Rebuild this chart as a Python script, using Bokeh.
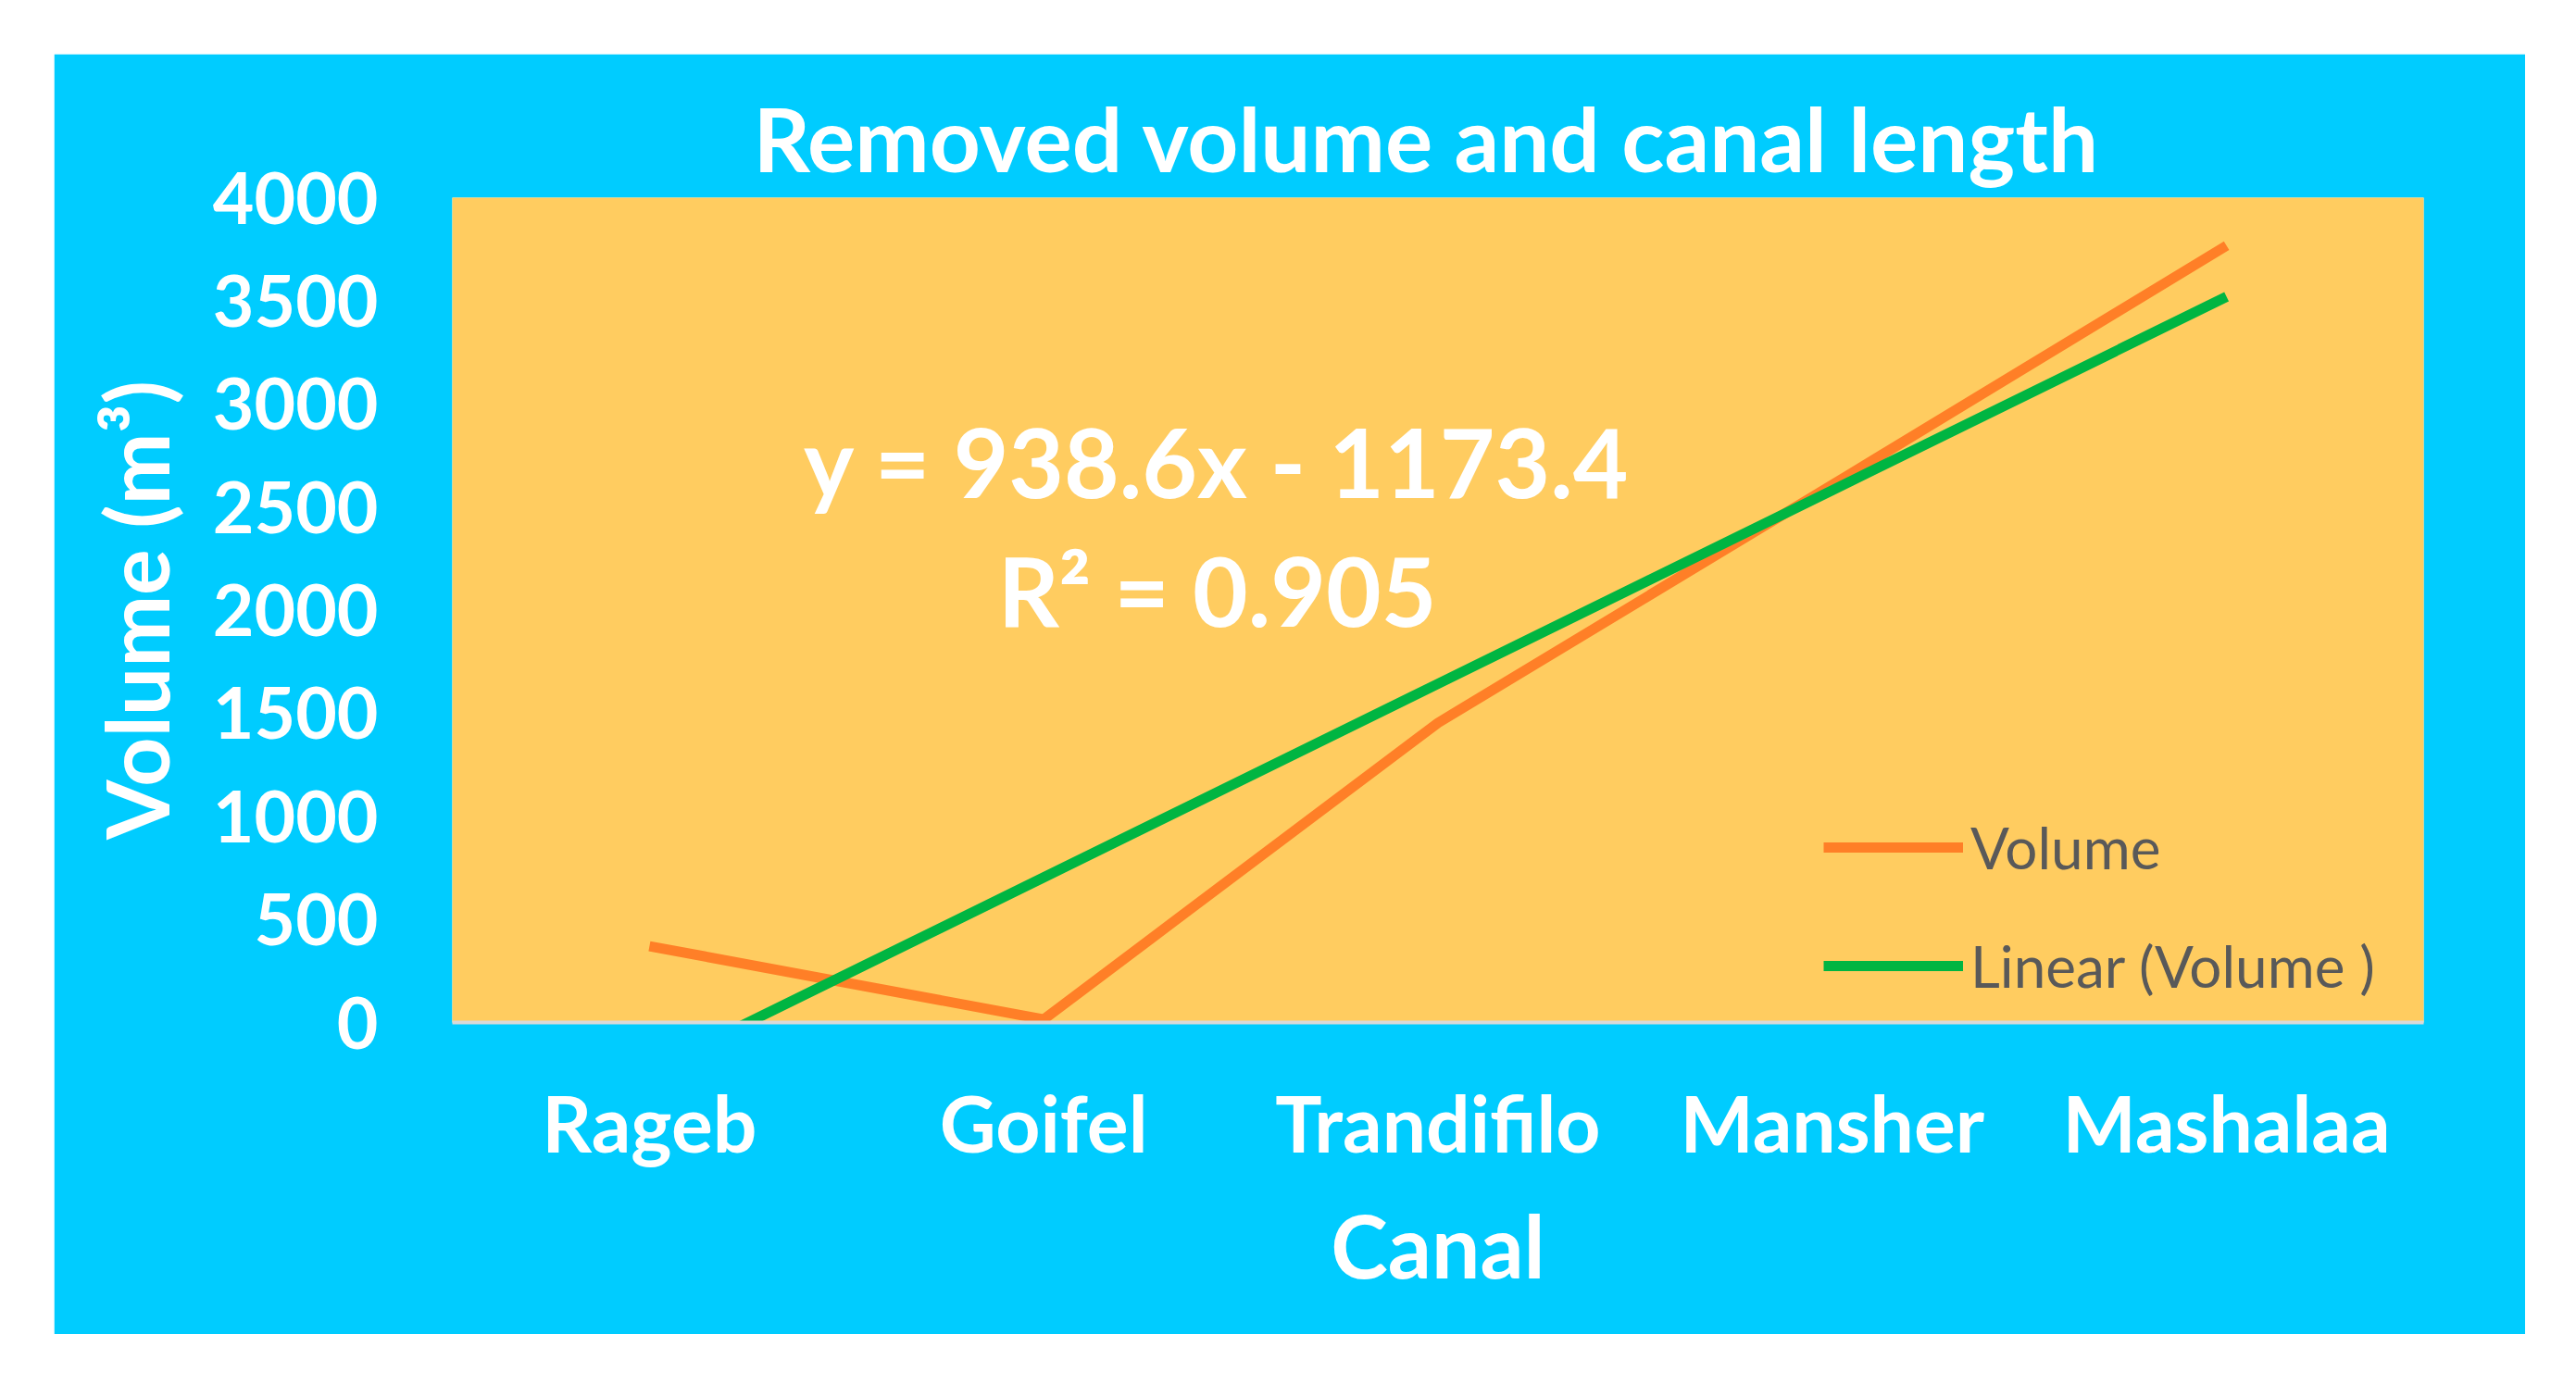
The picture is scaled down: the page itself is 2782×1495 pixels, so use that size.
import numpy as np
from bokeh.plotting import figure
from bokeh.models import Range1d, FixedTicker, Label, Legend, LegendItem, ColumnDataSource
from bokeh.embed import file_html
from bokeh.resources import INLINE

# ---- data ----
canals = ["Rageb", "Goifel", "Trandifilo", "Mansher", "Mashalaa"]
volume = [370, 15, 1453, 2607, 3767]
y_ticks = [0, 500, 1000, 1500, 2000, 2500, 3000, 3500, 4000]
title_text = "Removed volume and canal length"
x_title = "Canal"
y_title = "Volume (m³)"
eq_text = "y = 938.6x - 1173.4"
r2_text = "R² = 0.905"

positions = list(range(1, len(canals) + 1))
slope, intercept = np.polyfit(positions, volume, 1)
trend = [slope * x + intercept for x in positions]

CYAN = "#00CCFF"
PLOT_BG = "#FFCC60"
ORANGE = "#FF7F27"
GREEN = "#00B542"
FONT = "Lato"

p = figure(width=2669, height=1383, output_backend="svg", toolbar_location=None,
           x_range=Range1d(0.5, len(canals) + 0.5), y_range=Range1d(0, 4000),
           min_border_left=430, min_border_right=110, min_border_top=155, min_border_bottom=337,
           margin=(58, 0, 0, 58))
p.background_fill_color = PLOT_BG
p.border_fill_color = CYAN
p.outline_line_color = None
p.grid.visible = False

p.title.text = title_text
p.title.align = "left"
p.title.offset = 325
p.title.text_font = FONT
p.title.text_font_style = "bold"
p.title.text_font_size = "96px"
p.title.text_color = "white"
p.title.standoff = 15

src = ColumnDataSource(dict(x=positions, volume=volume, trend=trend))
r1 = p.line("x", "volume", source=src, line_color=ORANGE, line_width=11, line_join="round")
r2 = p.line("x", "trend", source=src, line_color=GREEN, line_width=11)

# axes
p.xaxis.ticker = FixedTicker(ticks=positions)
p.xaxis.major_label_overrides = {x: c for x, c in zip(positions, canals)}
p.xaxis.axis_line_color = "#D9D9D9"
p.xaxis.axis_line_width = 4
p.xaxis.major_label_standoff = 51
p.xaxis.major_label_text_font_size = "84px"
p.xaxis.axis_label = x_title
p.xaxis.axis_label_standoff = 23
p.xaxis.axis_label_text_font_size = "93px"

p.yaxis.ticker = FixedTicker(ticks=y_ticks)
p.yaxis.axis_line_color = None
p.yaxis.major_label_standoff = 74
p.yaxis.major_label_text_font_size = "77px"
p.yaxis.axis_label = y_title
p.yaxis.axis_label_standoff = 24
p.yaxis.axis_label_text_font_size = "93px"

for ax in (p.xaxis, p.yaxis):
    ax.major_tick_line_color = None
    ax.minor_tick_line_color = None
    ax.major_label_text_font = FONT
    ax.major_label_text_font_style = "bold"
    ax.major_label_text_color = "white"
    ax.axis_label_text_font = FONT
    ax.axis_label_text_font_style = "bold"
    ax.axis_label_text_color = "white"

# trendline equation
for txt, yy in ((eq_text, 2725), (r2_text, 2100)):
    p.add_layout(Label(x=2.44, y=yy, text=txt, text_align="center", text_baseline="middle",
                       text_font=FONT, text_font_style="bold", text_font_size="103px",
                       text_color="white"))

legend = Legend(items=[LegendItem(label="Volume", renderers=[r1]),
                       LegendItem(label="Linear (Volume )", renderers=[r2])],
                location=(1481, 24), padding=0, margin=0, border_line_color=None,
                background_fill_alpha=0, glyph_width=151, glyph_height=70,
                label_height=70, spacing=54, label_standoff=8,
                label_text_font=FONT, label_text_font_size="62px", label_text_color="#595959")
p.add_layout(legend)

open("out.html", "w").write(file_html(p, INLINE))
